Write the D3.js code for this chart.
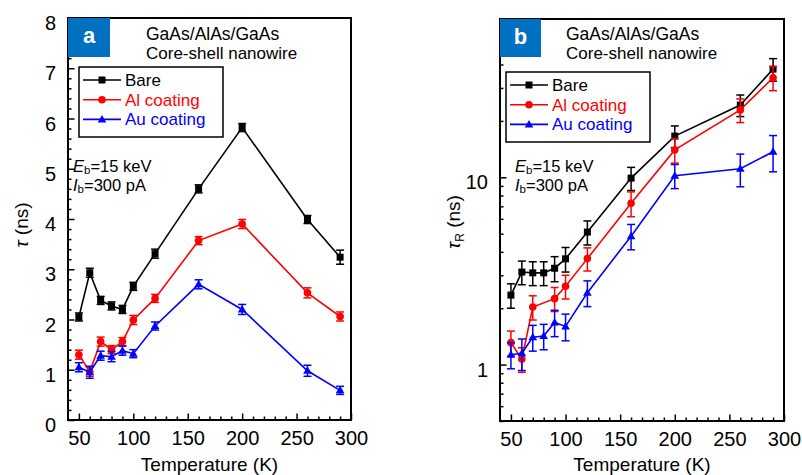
<!DOCTYPE html>
<html>
<head>
<meta charset="utf-8">
<script src="https://cdn.jsdelivr.net/npm/d3@7/dist/d3.min.js"></script>
<style>
  body { margin: 0; background: #fff; }
  svg text { font-family: "Liberation Sans", Arial, sans-serif; }
</style>
</head>
<body>
<div id="chart"></div>
<script>
var width = 802;
var height = 475;

// temperatures (K)
var temps = [50, 60, 70, 80, 90, 100, 120, 160, 200, 260, 290];

// panel a: tau (ns)
var tauBare = [2.05, 2.93, 2.38, 2.27, 2.2, 2.66, 3.31, 4.6, 5.82, 3.99, 3.24];
var tauBareErr = [0.08, 0.09, 0.08, 0.08, 0.08, 0.08, 0.09, 0.08, 0.08, 0.08, 0.14];
var tauAl = [1.3, 0.96, 1.56, 1.4, 1.56, 1.99, 2.42, 3.57, 3.9, 2.53, 2.06];
var tauAlErr = [0.09, 0.09, 0.09, 0.08, 0.08, 0.09, 0.08, 0.08, 0.09, 0.1, 0.09];
var tauAu = [1.05, 0.95, 1.28, 1.26, 1.38, 1.32, 1.87, 2.7, 2.2, 0.98, 0.59];
var tauAuErr = [0.09, 0.12, 0.09, 0.1, 0.09, 0.08, 0.08, 0.09, 0.1, 0.11, 0.08];

// panel b: tau_R (ns), log axis (no Al point at 80 K)
var tauRBare = [2.35, 3.12, 3.09, 3.09, 3.27, 3.67, 5.1, 9.9, 16.6, 24.3, 37.8];
var tauRBareErr = [0.35, 0.45, 0.45, 0.45, 0.5, 0.55, 0.75, 1.4, 2.2, 3.2, 5.2];
var tauRAl = [1.31, 1.07, 2.03, null, 2.25, 2.62, 3.68, 7.26, 14.0, 22.9, 34.0];
var tauRAlErr = [0.2, 0.16, 0.3, null, 0.33, 0.38, 0.52, 1.1, 2.1, 3.3, 5.0];
var tauRAu = [1.13, 1.15, 1.4, 1.42, 1.68, 1.6, 2.42, 4.85, 10.2, 11.1, 13.7];
var tauRAuErr = [0.18, 0.22, 0.22, 0.22, 0.27, 0.26, 0.38, 0.75, 1.5, 2.2, 3.0];

// ticks
var xMajor = [50, 100, 150, 200, 250, 300];
var xMinor = [60, 70, 80, 90, 110, 120, 130, 140, 160, 170, 180, 190, 210, 220, 230, 240, 260, 270, 280, 290];
var yMajorA = [0, 1, 2, 3, 4, 5, 6, 7, 8];
var yMinorA = [0.2, 0.4, 0.6, 0.8, 1.2, 1.4, 1.6, 1.8, 2.2, 2.4, 2.6, 2.8, 3.2, 3.4, 3.6, 3.8,
  4.2, 4.4, 4.6, 4.8, 5.2, 5.4, 5.6, 5.8, 6.2, 6.4, 6.6, 6.8, 7.2, 7.4, 7.6, 7.8];
var yMajorB = [1, 10];
var yMinorB = [0.5, 0.6, 0.7, 0.8, 0.9, 2, 3, 4, 5, 6, 7, 8, 9, 20, 30, 40, 50, 60, 70];

var seriesNames = ['Bare', 'Al coating', 'Au coating'];
var seriesColors = ['#000000', '#ff0000', '#0000ff'];
var seriesShapes = ['square', 'circle', 'triangle'];

var svg = d3.select('#chart').append('svg')
  .attr('width', width).attr('height', height);

function drawMarker(g, shape, x, y, color) {
  if (shape === 'square') {
    g.append('rect').attr('x', x - 3.5).attr('y', y - 3.5)
      .attr('width', 7).attr('height', 7).attr('fill', color);
  } else if (shape === 'circle') {
    g.append('circle').attr('cx', x).attr('cy', y).attr('r', 3.8).attr('fill', color);
  } else {
    g.append('path')
      .attr('d', 'M' + x + ',' + (y - 4.5) + ' L' + (x + 4.3) + ',' + (y + 3) + ' L' + (x - 4.3) + ',' + (y + 3) + 'Z')
      .attr('fill', color);
  }
}

function drawPanel(p) {
  var g = svg.append('g');
  var x = p.x, y = p.y;

  // ticks (inward)
  g.append('g').attr('transform', 'translate(0,' + y.range()[0] + ')')
    .call(d3.axisBottom(x).tickValues(xMinor).tickSize(-3.5).tickFormat(''))
    .call(function(a){ a.select('.domain').remove(); });
  g.append('g').attr('transform', 'translate(0,' + y.range()[0] + ')')
    .call(d3.axisBottom(x).tickValues(xMajor).tickSizeInner(-6.5).tickSizeOuter(0).tickPadding(11).tickFormat(d3.format('d')))
    .call(function(a){
      a.select('.domain').remove();
      a.selectAll('text').attr('font-size', 20).attr('fill', '#000');
    });
  g.append('g').attr('transform', 'translate(' + x.range()[0] + ',0)')
    .call(d3.axisLeft(y).tickValues(p.yMinor).tickSize(-3.5).tickFormat(''))
    .call(function(a){ a.select('.domain').remove(); });
  g.append('g').attr('transform', 'translate(' + x.range()[0] + ',0)')
    .call(d3.axisLeft(y).tickValues(p.yMajor).tickSizeInner(-6.5).tickSizeOuter(0).tickPadding(12).tickFormat(d3.format('d')))
    .call(function(a){
      a.select('.domain').remove();
      a.selectAll('text').attr('font-size', 20).attr('fill', '#000').attr('dy', '0.58em');
    });
  g.selectAll('.tick line').attr('stroke', '#000').attr('stroke-width', 1.5);

  // frame
  g.append('rect')
    .attr('x', x.range()[0]).attr('y', y.range()[1])
    .attr('width', x.range()[1] - x.range()[0])
    .attr('height', y.range()[0] - y.range()[1])
    .attr('fill', 'none').attr('stroke', '#000').attr('stroke-width', 2);

  // series
  p.series.forEach(function(s, i) {
    var pts = temps.map(function(t, j){ return { t: t, v: s.values[j], e: s.errs[j] }; })
      .filter(function(d){ return d.v != null; });
    var color = seriesColors[i];
    var line = d3.line()
      .x(function(d){ return x(d.t); })
      .y(function(d){ return y(d.v); });
    g.append('path').datum(pts)
      .attr('d', line)
      .attr('fill', 'none').attr('stroke', color).attr('stroke-width', 1.6);
    var eg = g.append('g').attr('stroke', color).attr('stroke-width', 1.5);
    pts.forEach(function(d) {
      var cx = x(d.t), y1 = y(d.v - d.e), y2 = y(d.v + d.e);
      eg.append('line').attr('x1', cx).attr('x2', cx).attr('y1', y1).attr('y2', y2);
      eg.append('line').attr('x1', cx - 4).attr('x2', cx + 4).attr('y1', y1).attr('y2', y1);
      eg.append('line').attr('x1', cx - 4).attr('x2', cx + 4).attr('y1', y2).attr('y2', y2);
      drawMarker(g, seriesShapes[i], cx, y(d.v), color);
    });
  });

  // panel label box
  g.append('rect').attr('x', p.box[0]).attr('y', p.box[1])
    .attr('width', p.box[2]).attr('height', p.box[3]).attr('fill', '#0070c0');
  g.append('text').attr('x', p.box[0] + p.box[2] / 2).attr('y', p.box[1] + 25)
    .attr('text-anchor', 'middle').attr('fill', '#fff')
    .attr('font-size', 22).attr('font-weight', 'bold').text(p.letter);

  // title
  g.append('text').attr('x', p.titleX).attr('y', 39.5).attr('font-size', 17.5).text('GaAs/AlAs/GaAs');
  g.append('text').attr('x', p.titleX).attr('y', 59).attr('font-size', 17).text('Core-shell nanowire');

  // legend
  var lx = p.legend[0], ly = p.legend[1];
  g.append('rect').attr('x', lx).attr('y', ly).attr('width', 144).attr('height', 70)
    .attr('fill', '#fff').attr('stroke', '#000').attr('stroke-width', 1.5);
  seriesNames.forEach(function(name, i) {
    var ry = ly + 13 + i * 19.7;
    g.append('line').attr('x1', lx + 4).attr('x2', lx + 42).attr('y1', ry).attr('y2', ry)
      .attr('stroke', seriesColors[i]).attr('stroke-width', 1.6);
    drawMarker(g, seriesShapes[i], lx + 23, ry, seriesColors[i]);
    g.append('text').attr('x', lx + 46).attr('y', ry + 6).attr('font-size', 17)
      .attr('fill', seriesColors[i]).text(name);
  });

  // beam conditions
  var t1 = g.append('text').attr('x', p.condX).attr('y', 171.5).attr('font-size', 16.5);
  t1.append('tspan').attr('font-style', 'italic').text('E');
  t1.append('tspan').attr('font-size', 11.5).attr('dy', 2.5).text('b');
  t1.append('tspan').attr('dy', -2.5).text('=15 keV');
  var t2 = g.append('text').attr('x', p.condX).attr('y', 190.5).attr('font-size', 16.5);
  t2.append('tspan').attr('font-style', 'italic').text('I');
  t2.append('tspan').attr('font-size', 11.5).attr('dy', 2.5).text('b');
  t2.append('tspan').attr('dy', -2.5).text('=300 pA');

  // axis titles
  g.append('text').attr('x', (x.range()[0] + x.range()[1]) / 2).attr('y', 470.5)
    .attr('text-anchor', 'middle').attr('font-size', 19).text('Temperature (K)');
  var yt = g.append('text')
    .attr('transform', 'translate(' + p.yTitle[0] + ',' + p.yTitle[1] + ') rotate(-90)')
    .attr('text-anchor', 'middle').attr('font-size', 19);
  yt.append('tspan').attr('font-style', 'italic').text('\u03c4');
  if (p.sub) {
    yt.append('tspan').attr('font-size', 12).attr('dy', 4).text(p.sub);
    yt.append('tspan').attr('dy', -4).text(' (ns)');
  } else {
    yt.append('tspan').text(' (ns)');
  }
}

drawPanel({
  x: d3.scaleLinear().domain([40, 300]).range([68, 351]),
  y: d3.scaleLinear().domain([0, 8]).range([420, 18]),
  yMajor: yMajorA, yMinor: yMinorA,
  series: [
    { values: tauBare, errs: tauBareErr },
    { values: tauAl, errs: tauAlErr },
    { values: tauAu, errs: tauAuErr }
  ],
  letter: 'a', box: [68, 18, 42, 39],
  titleX: 146, legend: [79, 67], condX: 73,
  yTitle: [28, 225], sub: null
});

drawPanel({
  x: d3.scaleLinear().domain([40, 300]).range([500, 784]),
  y: d3.scaleLog().domain([0.5, 70]).range([421, 19]),
  yMajor: yMajorB, yMinor: yMinorB,
  series: [
    { values: tauRBare, errs: tauRBareErr },
    { values: tauRAl, errs: tauRAlErr },
    { values: tauRAu, errs: tauRAuErr }
  ],
  letter: 'b', box: [500, 19, 41, 38],
  titleX: 566, legend: [506, 72], condX: 515,
  yTitle: [460, 222], sub: 'R'
});
</script>
</body>
</html>
